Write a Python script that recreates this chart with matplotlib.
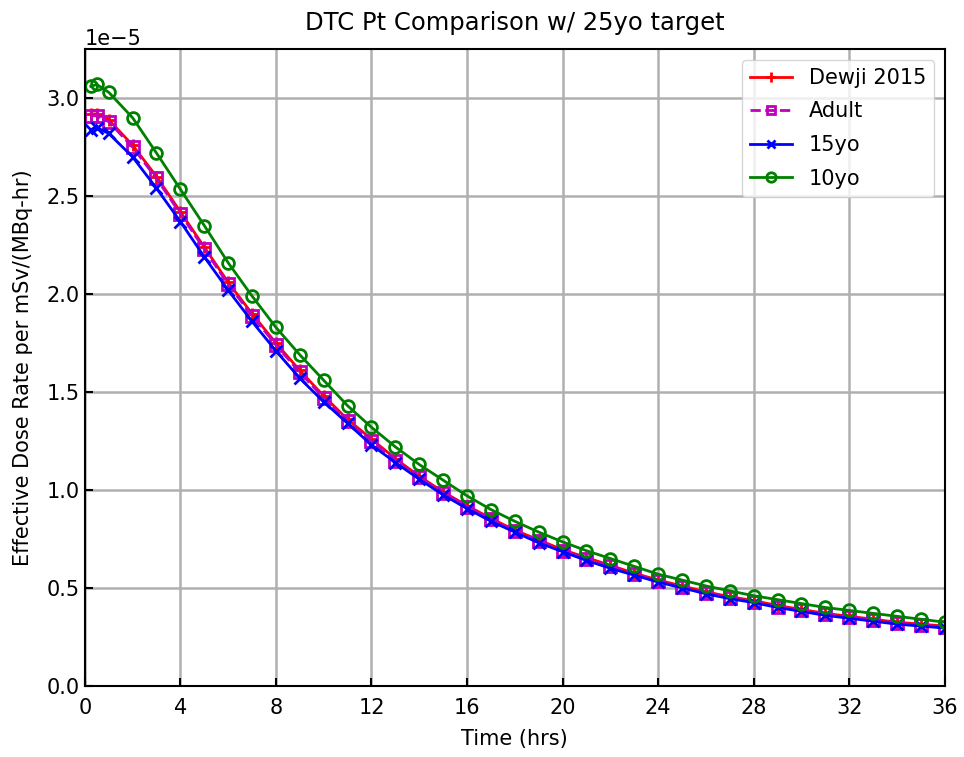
import numpy as np
import matplotlib
matplotlib.use("Agg")
import matplotlib.pyplot as plt


# time points (hrs)
hours = [0.25, 0.5, 1, 2, 3, 4, 5, 6, 7, 8, 9, 10, 11, 12, 13, 14, 15, 16, 17, 18,
         19, 20, 21, 22, 23, 24, 25, 26, 27, 28, 29, 30, 31, 32, 33, 34, 35, 36]

# effective dose rate, units of 1e-5 mSv/(MBq-hr)
dewji = [2.92, 2.92, 2.89, 2.76, 2.60, 2.42, 2.24, 2.06, 1.90, 1.75, 1.61, 1.48, 1.36,
         1.26, 1.16, 1.07, 0.99, 0.92, 0.855, 0.795, 0.745, 0.695, 0.655, 0.615, 0.575,
         0.54, 0.51, 0.48, 0.455, 0.435, 0.41, 0.39, 0.37, 0.355, 0.34, 0.325, 0.315, 0.305]
adult = [2.91, 2.91, 2.88, 2.75, 2.59, 2.41, 2.23, 2.05, 1.89, 1.74, 1.60, 1.47, 1.35,
         1.25, 1.15, 1.065, 0.985, 0.915, 0.85, 0.79, 0.74, 0.69, 0.65, 0.61, 0.57,
         0.535, 0.505, 0.475, 0.45, 0.43, 0.405, 0.385, 0.365, 0.35, 0.335, 0.32, 0.31, 0.30]
yo15 = [2.84, 2.85, 2.82, 2.70, 2.54, 2.37, 2.19, 2.02, 1.86, 1.71, 1.57, 1.45, 1.34,
        1.23, 1.14, 1.055, 0.975, 0.905, 0.84, 0.785, 0.73, 0.685, 0.64, 0.60, 0.565,
        0.53, 0.50, 0.47, 0.445, 0.425, 0.40, 0.38, 0.36, 0.345, 0.33, 0.315, 0.305, 0.295]
yo10 = [3.06, 3.07, 3.03, 2.90, 2.72, 2.535, 2.35, 2.16, 1.99, 1.83, 1.69, 1.56, 1.43,
        1.32, 1.22, 1.13, 1.05, 0.97, 0.90, 0.84, 0.785, 0.735, 0.69, 0.65, 0.61, 0.57,
        0.54, 0.51, 0.485, 0.46, 0.44, 0.42, 0.40, 0.385, 0.37, 0.355, 0.34, 0.325]

scale = 1e-5

fig = plt.figure(figsize=(9.64, 7.57), dpi=100)
ax = fig.add_axes([0.088, 0.094, 0.892, 0.841])

t = np.array(hours)
ax.plot(t, np.array(dewji) * scale, color='r', marker='+', ms=9, mew=2, lw=2, label='Dewji 2015')
ax.plot(t, np.array(adult) * scale, color='m', marker='s', ms=8, mew=2, lw=2, ls='--',
        fillstyle='none', label='Adult')
ax.plot(t, np.array(yo15) * scale, color='b', marker='x', ms=8, mew=2, lw=2, label='15yo')
ax.plot(t, np.array(yo10) * scale, color='g', marker='o', ms=8.5, mew=2, lw=2,
        fillstyle='none', label='10yo')

ax.set_xlim(0, 36)
ax.set_ylim(0, 3.25e-5)
ax.set_xticks(np.arange(0, 37, 4))
ax.grid(True, color='#b0b0b0', lw=1.8)
ax.set_axisbelow(True)
ax.tick_params(direction='in', length=6, width=1.5, labelsize=15)
ax.tick_params(axis='x', pad=9)
ax.yaxis.get_offset_text().set_fontsize(15)
for s in ax.spines.values():
    s.set_linewidth(1.5)

ax.set_xlabel('Time (hrs)', fontsize=15, labelpad=8)
ax.set_ylabel('Effective Dose Rate per mSv/(MBq-hr)', fontsize=15, labelpad=10)
ax.set_title('DTC Pt Comparison w/ 25yo target', fontsize=17.5, pad=14)
ax.legend(loc='upper right', fontsize=15, markerscale=0.8, labelspacing=0.65)

fig.savefig('out.png', dpi=100)
